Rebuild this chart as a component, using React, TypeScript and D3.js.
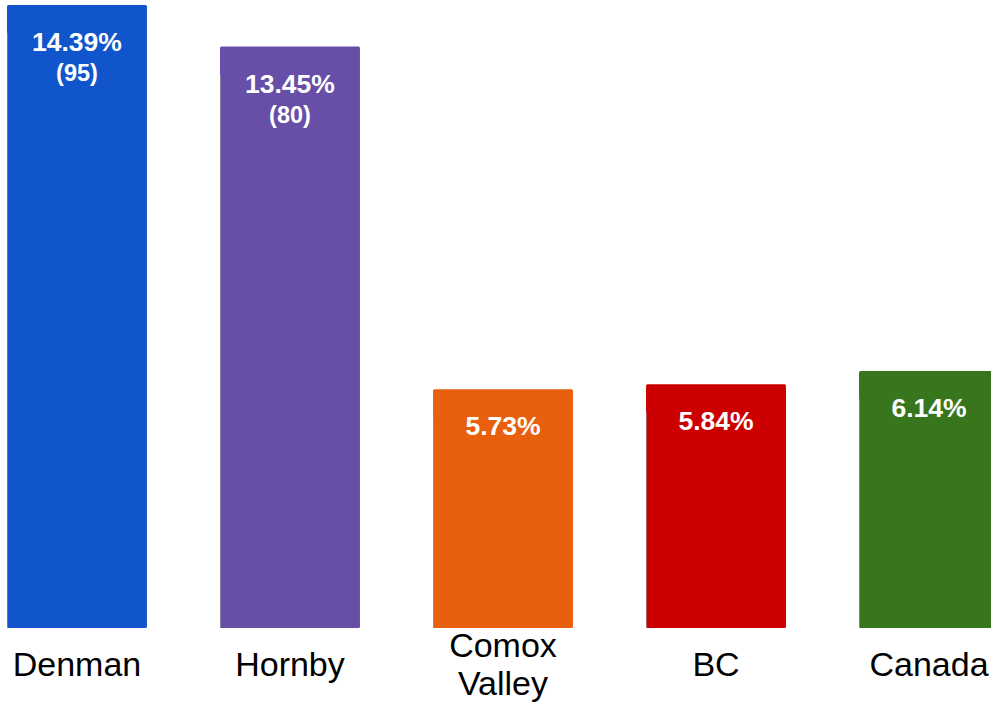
import React from "react";
import * as d3 from "d3";

const categories: string[][] = [["Denman"], ["Hornby"], ["Comox", "Valley"], ["BC"], ["Canada"]];
const values: number[] = [14.39, 13.45, 5.73, 5.84, 6.14];
const counts: (number | null)[] = [95, 80, null, null, null];
const colors: string[] = ["#1155cc", "#674ea7", "#e85f0e", "#cc0000", "#38761d"];

const W = 991;
const H = 704;
const FONT = "'Liberation Sans', Arial, Helvetica, sans-serif";

export default function App() {
  const keys = categories.map((c) => c.join(" "));
  const x = d3
    .scaleBand<string>()
    .domain(keys)
    .range([7, 999])
    .paddingInner(0.343)
    .paddingOuter(0);
  const y = d3.scaleLinear().domain([0.35, 14.5]).range([628, 0]);
  const bw = x.bandwidth();

  return (
    <svg
      width={W}
      height={H}
      style={{ position: "absolute", left: 0, top: 0, background: "#fff" }}
      fontFamily={FONT}
    >
      {keys.map((k, i) => {
        const x0 = x(k)!;
        const top = y(values[i]);
        const base = y(0.35);
        const cx = x0 + bw / 2;
        return (
          <g key={k}>
            <rect x={x0} y={top} width={bw} height={base - top} fill={colors[i]} rx={1.5} />
            <line
              x1={x0 + 0.5}
              x2={x0 + 0.5}
              y1={top + 28}
              y2={base}
              stroke="#9a9a9a"
              strokeWidth={1}
              opacity={0.6}
            />
            <text
              x={cx}
              y={top + 46}
              textAnchor="middle"
              fill="#fff"
              fontWeight="bold"
              fontSize={26.5}
            >
              {values[i].toFixed(2) + "%"}
            </text>
            {counts[i] != null && (
              <text
                x={cx}
                y={top + 76}
                textAnchor="middle"
                fill="#fff"
                fontWeight="bold"
                fontSize={23.5}
              >
                {"(" + counts[i] + ")"}
              </text>
            )}
            {categories[i].length === 1 ? (
              <text x={cx} y={676} textAnchor="middle" fill="#000" fontSize={34}>
                {categories[i][0]}
              </text>
            ) : (
              categories[i].map((line, j) => (
                <text
                  key={line}
                  x={cx}
                  y={657 + j * 38}
                  textAnchor="middle"
                  fill="#000"
                  fontSize={34}
                >
                  {line}
                </text>
              ))
            )}
          </g>
        );
      })}
    </svg>
  );
}
